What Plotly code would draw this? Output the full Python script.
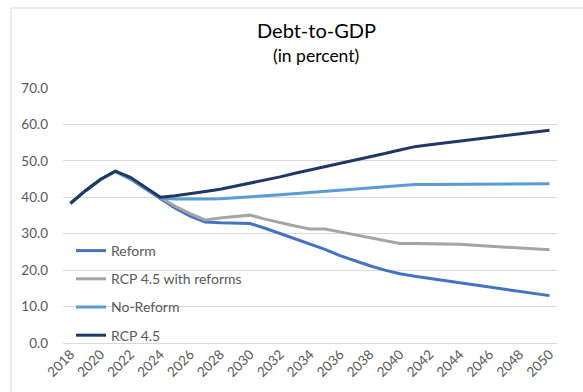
import plotly.graph_objects as go

years = list(range(2018, 2051))

reform = [38.3, 41.8, 44.9, 47.1, 45.0, 42.4, 39.8, 37.0, 34.8, 33.2, 33.0, 32.9, 32.8,
          31.5, 30.1, 28.5, 27.1, 25.7, 24.0, 22.5, 21.2, 20.0, 19.0, 18.3, 17.7, 17.1,
          16.5, 15.9, 15.3, 14.7, 14.1, 13.5, 13.0]
rcp_reforms = [38.3, 41.8, 44.9, 47.1, 45.0, 42.5, 39.9, 37.5, 35.5, 33.8, 34.3, 34.7, 35.1,
               34.0, 33.0, 32.1, 31.3, 31.3, 30.5, 29.7, 28.9, 28.1, 27.3, 27.3, 27.3, 27.2,
               27.1, 26.8, 26.6, 26.4, 26.2, 25.9, 25.6]
no_reform = [38.3, 41.8, 44.9, 47.1, 45.1, 42.5, 39.8, 39.5, 39.4, 39.5, 39.6, 39.8, 40.1,
             40.4, 40.7, 41.0, 41.3, 41.6, 41.9, 42.2, 42.6, 42.9, 43.2, 43.5, 43.5, 43.5,
             43.5, 43.6, 43.6, 43.6, 43.7, 43.7, 43.7]
rcp45 = [38.3, 41.8, 44.9, 47.2, 45.5, 42.7, 40.0, 40.4, 40.9, 41.6, 42.2, 43.0, 43.8,
         44.7, 45.6, 46.6, 47.5, 48.3, 49.1, 50.1, 51.0, 52.0, 53.0, 53.9, 54.4, 54.9,
         55.4, 55.9, 56.3, 56.8, 57.3, 57.8, 58.4]

series = [
    ("Reform", reform, "#4472C4"),
    ("RCP 4.5 with reforms", rcp_reforms, "#A5A5A5"),
    ("No-Reform", no_reform, "#5B9BD5"),
    ("RCP 4.5", rcp45, "#203864"),
]

tick_years = list(range(2018, 2051, 2))
y_ticks = [0, 10, 20, 30, 40, 50, 60, 70]

fig = go.Figure()
for name, vals, color in series:
    fig.add_trace(go.Scatter(x=years, y=vals, mode="lines", name=name,
                             legendgroup=name,
                             line=dict(color=color, width=3)))

W, H = 583, 392
L, R, T, B = 63, 26, 88, 49
pw = W - L - R
ph = H - T - B

def px_x(x):
    return (x - L) / pw

def px_y(y):
    return (H - B - y) / ph

fig.update_layout(
    width=W, height=H,
    margin=dict(l=L, r=R, t=T, b=B),
    paper_bgcolor="white", plot_bgcolor="white",
    font=dict(family="Lato", color="#595959", size=13),
    showlegend=True,
    legend=dict(x=px_x(71), y=px_y(235), xanchor="left", yanchor="top",
                bgcolor="rgba(0,0,0,0)", tracegroupgap=7,
                font=dict(size=14, color="#595959"), itemwidth=30),
    xaxis=dict(range=[2017.5, 2050.5], tickvals=tick_years,
               ticktext=[str(y) for y in tick_years], tickangle=-45,
               showgrid=False, zeroline=False, showline=False, ticks="",
               tickfont=dict(size=13.5, color="#595959")),
    yaxis=dict(range=[0, 70], tickvals=y_ticks,
               ticktext=[f"{v:.1f}" for v in y_ticks],
               showgrid=True, gridcolor="#D9D9D9", gridwidth=1,
               zeroline=True, zerolinecolor="#D9D9D9", zerolinewidth=1,
               showline=False, ticks="", ticklabelstandoff=14,
               tickfont=dict(size=13.5, color="#595959")),
    shapes=[dict(type="rect", xref="paper", yref="paper",
                 x0=px_x(11), x1=px_x(600), y0=px_y(420), y1=px_y(8),
                 line=dict(color="#D9D9D9", width=1), layer="below")],
    annotations=[
        dict(text="Debt-to-GDP", x=px_x(316), y=px_y(30), xref="paper", yref="paper",
             showarrow=False, font=dict(size=20, color="black", family="Lato"),
             xanchor="center", yanchor="middle"),
        dict(text="(in percent)", x=px_x(316), y=px_y(55), xref="paper", yref="paper",
             showarrow=False, font=dict(size=17.5, color="black", family="Lato"),
             xanchor="center", yanchor="middle"),
    ],
)

fig.write_html("out.html")
